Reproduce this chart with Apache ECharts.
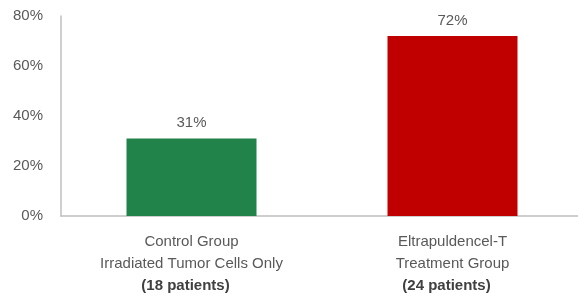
<!DOCTYPE html>
<html>
<head>
<meta charset="utf-8">
<script src="https://cdn.jsdelivr.net/npm/echarts@6/dist/echarts.min.js"></script>
<style>
html,body{margin:0;padding:0;background:#fff;}
#chart{width:578px;height:301px;}
</style>
</head>
<body>
<div id="chart"></div>
<script>
var groupNames = ['Control Group', 'Eltrapuldencel-T'];
var groupSubs = ['Irradiated Tumor Cells Only', 'Treatment Group'];
var groupPatients = ['(18 patients)', '(24 patients)'];
var responseRates = [31, 72];
var barColors = ['#21824A', '#C00000'];
var yTicks = [0, 20, 40, 60, 80];

var chart = echarts.init(document.getElementById('chart'));
var textColor = '#595959';

var seriesData = responseRates.map(function(v, i){
    return { value: v, itemStyle: { color: barColors[i] } };
});

var option = {
    animation: false,
    textStyle: { fontFamily: 'Liberation Sans, Arial, sans-serif' },
    grid: { left: 61, top: 16, bottom: 85, width: 522, outerBoundsMode: 'none', containLabel: false },
    xAxis: {
        type: 'category',
        data: groupNames,
        axisTick: { show: false },
        axisLine: { lineStyle: { color: '#BFBFBF', width: 1.5 } },
        axisLabel: {
            margin: 15,
            interval: 0,
            formatter: function(val, idx){
                return '{a|' + groupNames[idx] + '}\n{a|' + groupSubs[idx] + '}\n{b|' + groupPatients[idx] + '}';
            },
            rich: {
                a: { fontSize: 15, color: textColor, lineHeight: 22 },
                b: { fontSize: 15, color: '#404040', fontWeight: 'bold', lineHeight: 22, padding: [0, 12, 0, 0] }
            }
        }
    },
    yAxis: {
        type: 'value',
        min: yTicks[0],
        max: yTicks[yTicks.length - 1],
        interval: 20,
        splitLine: { show: false },
        axisTick: { show: false },
        axisLine: { show: true, lineStyle: { color: '#BFBFBF', width: 1.5 } },
        axisLabel: {
            margin: 18,
            fontSize: 15,
            color: textColor,
            formatter: '{value}%'
        }
    },
    series: [{
        type: 'bar',
        data: seriesData,
        barWidth: 130,
        label: {
            show: true,
            position: 'top',
            distance: 8,
            fontSize: 15,
            color: textColor,
            formatter: '{c}%'
        }
    }]
};
chart.setOption(option);
</script>
</body>
</html>
